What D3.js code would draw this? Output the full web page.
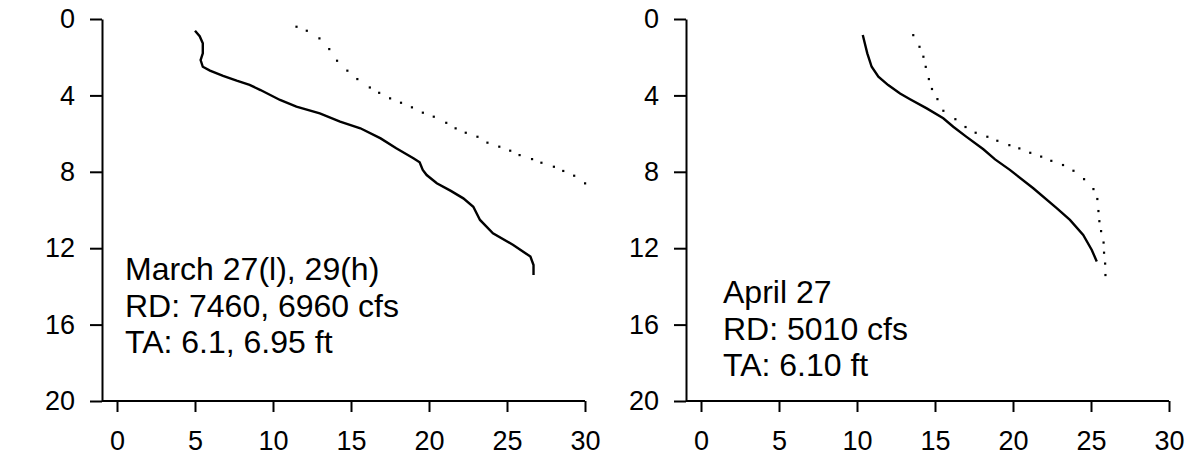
<!DOCTYPE html>
<html>
<head>
<meta charset="utf-8">
<script src="https://cdn.jsdelivr.net/npm/d3@7"></script>
<style>
  body { margin: 0; background: #fff; }
  text { font-family: "Liberation Sans", Arial, sans-serif; fill: #000; }
</style>
</head>
<body>
<div id="chart"></div>
<script>
// temperature (x) vs depth (y)
const leftSolidTemp = [5.0, 5.3, 5.5, 5.5, 5.36, 5.5, 5.96, 6.8, 7.67, 8.5, 9.2, 10.45, 11.5, 13.0, 14.3, 15.6, 16.9, 17.9, 19.0, 19.4, 19.6, 19.85, 20.5, 21.4, 22.2, 22.84, 23.27, 24.1, 25.4, 26.5, 26.7, 26.7];
const leftSolidDepth = [0.61, 0.9, 1.27, 1.8, 2.15, 2.5, 2.7, 2.98, 3.23, 3.45, 3.72, 4.24, 4.59, 4.94, 5.37, 5.72, 6.25, 6.77, 7.29, 7.5, 7.9, 8.17, 8.6, 9.0, 9.39, 9.83, 10.52, 11.22, 11.83, 12.44, 12.88, 13.4];

const leftDotTemp = [11.5, 12.16, 12.97, 13.6, 14.1, 14.76, 15.4, 16.2, 16.8, 17.5, 18.2, 18.9, 19.6, 20.3, 21.1, 21.7, 22.35, 23.1, 23.74, 24.5, 25.2, 25.8, 26.6, 27.2, 28.0, 28.6, 29.3, 30.0];
const leftDotDepth = [0.4, 0.61, 1.01, 1.57, 2.18, 2.7, 3.14, 3.58, 3.86, 4.15, 4.38, 4.62, 4.9, 5.11, 5.43, 5.72, 5.95, 6.16, 6.47, 6.68, 6.89, 7.12, 7.33, 7.52, 7.73, 7.95, 8.2, 8.6];

const rightSolidTemp = [10.37, 10.5, 10.66, 10.94, 11.37, 12.0, 12.76, 13.4, 14.47, 15.53, 16.17, 17.0, 18.1, 18.85, 19.8, 21.3, 22.8, 23.65, 24.5, 25.05, 25.37];
const rightSolidDepth = [0.84, 1.27, 1.8, 2.5, 3.02, 3.46, 3.9, 4.2, 4.68, 5.2, 5.64, 6.16, 6.82, 7.35, 7.9, 8.86, 9.9, 10.52, 11.3, 12.09, 12.7];

const rightDotTemp = [13.6, 14.0, 14.25, 14.4, 14.6, 14.8, 15.15, 15.53, 16.3, 16.95, 17.6, 18.35, 18.99, 19.76, 20.4, 21.1, 21.8, 22.45, 23.2, 23.87, 24.55, 25.15, 25.4, 25.47, 25.53, 25.64, 25.8, 25.83, 25.9, 25.92];
const rightDotDepth = [0.84, 1.45, 1.97, 2.5, 3.14, 3.66, 4.19, 4.8, 5.24, 5.65, 5.95, 6.16, 6.37, 6.6, 6.77, 7.0, 7.2, 7.42, 7.64, 7.94, 8.38, 8.9, 9.42, 10.05, 10.58, 11.1, 11.7, 12.23, 12.8, 13.4];

const xTicks = [0, 5, 10, 15, 20, 25, 30];
const yTicks = [0, 4, 8, 12, 16, 20];

const leftLabel = ["March 27(l), 29(h)", "RD: 7460, 6960 cfs", "TA: 6.1, 6.95 ft"];
const rightLabel = ["April 27", "RD: 5010 cfs", "TA: 6.10 ft"];

const zip = (xs, ys) => xs.map((x, i) => ({ t: x, d: ys[i] }));

const width = 1193, height = 456;
const svg = d3.select("#chart").append("svg")
  .attr("width", width)
  .attr("height", height);

const panels = [
  { axisX: 102, x0: 117, solid: zip(leftSolidTemp, leftSolidDepth), dots: zip(leftDotTemp, leftDotDepth),
    label: leftLabel, labelX: 125, labelY: 280 },
  { axisX: 686, x0: 701, solid: zip(rightSolidTemp, rightSolidDepth), dots: zip(rightDotTemp, rightDotDepth),
    label: rightLabel, labelX: 723, labelY: 303 }
];

const yTop = 19, yBottom = 401;

panels.forEach(p => {
  const x = d3.scaleLinear().domain([0, 30]).range([p.x0, p.x0 + 468]);
  const y = d3.scaleLinear().domain([0, 20]).range([yTop, yBottom]);
  const g = svg.append("g");

  const yAxis = g.append("g")
    .attr("transform", `translate(${p.axisX},0)`)
    .call(d3.axisLeft(y).tickValues(yTicks).tickSize(12).tickSizeOuter(0).tickPadding(15));

  const xAxis = g.append("g")
    .attr("transform", `translate(0,${yBottom})`)
    .call(d3.axisBottom(x).tickValues(xTicks).tickSize(11).tickSizeOuter(0).tickPadding(19));
  xAxis.select(".domain").attr("d", `M${p.axisX},0H${x(30)}`);

  [yAxis, xAxis].forEach(a => {
    a.selectAll(".domain, line").attr("stroke", "#000").attr("stroke-width", 2);
    a.selectAll("text")
      .style("font-size", "27px")
      .style("font-family", "'Liberation Sans', Arial, sans-serif")
      .attr("fill", "#000");
  });

  const line = d3.line().x(d => x(d.t)).y(d => y(d.d));
  g.append("path")
    .datum(p.solid)
    .attr("d", line)
    .attr("fill", "none")
    .attr("stroke", "#000")
    .attr("stroke-width", 2.4);

  g.append("g")
    .selectAll("rect")
    .data(p.dots)
    .join("rect")
    .attr("x", d => x(d.t) - 1)
    .attr("y", d => y(d.d) - 1)
    .attr("width", 2.2)
    .attr("height", 2.2)
    .attr("fill", "#000");

  g.append("text")
    .attr("x", p.labelX)
    .attr("y", p.labelY)
    .style("font-size", "32px")
    .selectAll("tspan")
    .data(p.label)
    .join("tspan")
    .attr("x", p.labelX)
    .attr("dy", (d, i) => i === 0 ? 0 : 36.5)
    .text(d => d);
});
</script>
</body>
</html>
